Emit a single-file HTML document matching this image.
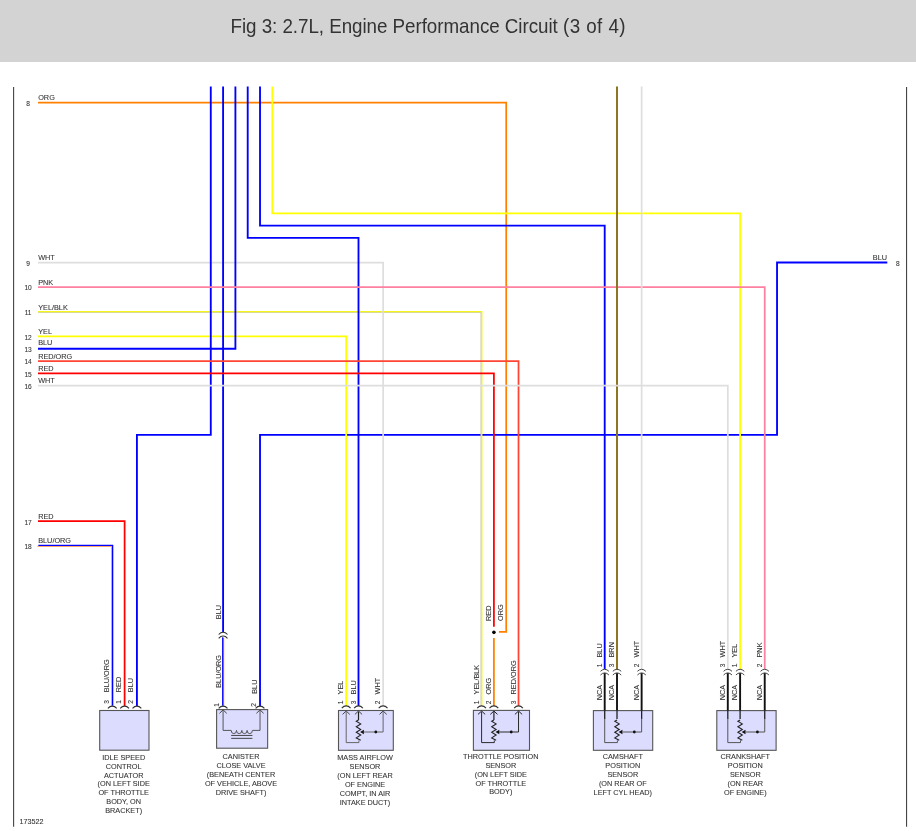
<!DOCTYPE html>
<html lang="en">
<head>
<meta charset="utf-8">
<title>Fig 3: 2.7L, Engine Performance Circuit (3 of 4)</title>
<style>
html,body{margin:0;padding:0;background:#fff;}
body{width:916px;height:831px;position:relative;overflow:hidden;font-family:"Liberation Sans",sans-serif;}
#hdr{position:absolute;left:0;top:0;width:916px;height:62px;background:#d3d3d3;}
#ttl{position:absolute;left:230.5px;top:13.7px;transform:scaleY(1.05);transform-origin:0 19.7px;font-size:18.8px;line-height:26px;color:#333;white-space:nowrap;letter-spacing:-0.04px;}
#ttl span{letter-spacing:0.45px;}
svg{position:absolute;left:0;top:0;}
svg text{font-family:"Liberation Sans",sans-serif;stroke:#333;stroke-width:0.08px;}
</style>
</head>
<body>
<div id="hdr"><div id="ttl">Fig 3: 2.7L, Engine Performance Circuit <span>(3 of 4)</span></div></div>
<svg width="916" height="831" viewBox="0 0 916 831">
<path d="M38.00 102.50 L506.22 102.50 L506.22 631.83 L498.91 631.83" stroke="#ff8000" stroke-width="1.75" fill="none" />
<path d="M493.91 638.03 L493.91 706.00" stroke="#ff8000" stroke-width="1.75" fill="none" />
<path d="M887.30 262.53 L777.04 262.53 L777.04 434.87 L260.02 434.87 L260.02 706.20" stroke="#0000ff" stroke-width="1.85" fill="none" />
<path d="M38.00 312.12 L481.25 312.12 L481.25 706.00" stroke="#c8c8a0" stroke-width="1.5" fill="none" />
<path d="M38.00 311.62 L481.75 311.62 L481.75 706.00" stroke="#f4f420" stroke-width="1.35" fill="none" />
<path d="M272.33 86.50 L272.33 213.29 L740.11 213.29 L740.11 669.00" stroke="#ffff00" stroke-width="1.75" fill="none" />
<path d="M38.00 336.39 L346.19 336.39 L346.19 706.00" stroke="#ffff00" stroke-width="1.75" fill="none" />
<path d="M38.00 262.53 L383.12 262.53 L383.12 706.00" stroke="#dedede" stroke-width="1.7" fill="none" />
<path d="M210.78 86.50 L210.78 434.87 L136.92 434.87 L136.92 706.00" stroke="#0000ff" stroke-width="1.85" fill="none" />
<path d="M223.09 86.50 L223.09 632.00" stroke="#0000ff" stroke-width="1.85" fill="none" />
<path d="M38.00 348.70 L235.40 348.70 L235.40 86.50" stroke="#0000ff" stroke-width="1.85" fill="none" />
<path d="M247.71 86.50 L247.71 237.91 L358.50 237.91 L358.50 706.00" stroke="#0000ff" stroke-width="1.85" fill="none" />
<path d="M260.02 86.50 L260.02 225.60 L604.70 225.60 L604.70 669.00" stroke="#0000ff" stroke-width="1.85" fill="none" />
<path d="M38.00 287.15 L764.73 287.15 L764.73 669.00" stroke="#ff80a0" stroke-width="1.75" fill="none" />
<path d="M38.00 361.01 L518.53 361.01 L518.53 706.00" stroke="#ff4434" stroke-width="1.75" fill="none" />
<path d="M38.00 373.32 L493.91 373.32 L493.91 626.83" stroke="#ff0000" stroke-width="1.75" fill="none" />
<path d="M38.00 521.04 L124.61 521.04 L124.61 706.00" stroke="#ff0000" stroke-width="1.75" fill="none" />
<path d="M617.01 86.50 L617.01 669.00" stroke="#8c7424" stroke-width="2.0" fill="none" />
<path d="M641.63 86.50 L641.63 669.00" stroke="#dedede" stroke-width="1.7" fill="none" />
<path d="M38.00 385.63 L727.80 385.63 L727.80 669.00" stroke="#dedede" stroke-width="1.7" fill="none" />
<path d="M37.40 546.26 L111.70 546.26 L111.70 706.60" stroke="#ff8a40" stroke-width="1.0" fill="none" />
<path d="M38.35 545.31 L112.65 545.31 L112.65 705.65" stroke="#0000ff" stroke-width="1.3" fill="none" />
<path d="M223.69 638.10 L223.69 706.80" stroke="#ff8a40" stroke-width="1.0" fill="none" />
<path d="M222.74 637.15 L222.74 705.85" stroke="#0000ff" stroke-width="1.3" fill="none" />
<circle cx="493.91" cy="632.33" r="1.8" fill="#000"/>
<path d="M218.69 634.50 Q220.67 632.20 223.09 632.20 Q225.51 632.20 227.49 634.50" stroke="#333" stroke-width="1.1" fill="none"/>
<path d="M218.69 638.30 Q220.67 636.00 223.09 636.00 Q225.51 636.00 227.49 638.30" stroke="#333" stroke-width="1.1" fill="none"/>
<path d="M13.6 87 V826.8" stroke="#444" stroke-width="1.1"/>
<path d="M906.55 87 V826.8" stroke="#444" stroke-width="1.1"/>
<text x="38.20" y="100.30" text-anchor="start" font-size="7.3" fill="#333333">ORG</text>
<text x="28.10" y="106.10" text-anchor="middle" font-size="6.6" fill="#333333">8</text>
<text x="38.20" y="260.33" text-anchor="start" font-size="7.3" fill="#333333">WHT</text>
<text x="28.10" y="266.13" text-anchor="middle" font-size="6.6" fill="#333333">9</text>
<text x="38.20" y="284.95" text-anchor="start" font-size="7.3" fill="#333333">PNK</text>
<text x="28.10" y="289.75" text-anchor="middle" font-size="6.6" fill="#333333">10</text>
<text x="38.20" y="309.57" text-anchor="start" font-size="7.3" fill="#333333">YEL/BLK</text>
<text x="28.10" y="315.37" text-anchor="middle" font-size="6.6" fill="#333333">11</text>
<text x="38.20" y="334.19" text-anchor="start" font-size="7.3" fill="#333333">YEL</text>
<text x="28.10" y="339.99" text-anchor="middle" font-size="6.6" fill="#333333">12</text>
<text x="38.20" y="345.40" text-anchor="start" font-size="7.3" fill="#333333">BLU</text>
<text x="28.10" y="352.30" text-anchor="middle" font-size="6.6" fill="#333333">13</text>
<text x="38.20" y="358.81" text-anchor="start" font-size="7.3" fill="#333333">RED/ORG</text>
<text x="28.10" y="363.61" text-anchor="middle" font-size="6.6" fill="#333333">14</text>
<text x="38.20" y="371.12" text-anchor="start" font-size="7.3" fill="#333333">RED</text>
<text x="28.10" y="376.92" text-anchor="middle" font-size="6.6" fill="#333333">15</text>
<text x="38.20" y="383.43" text-anchor="start" font-size="7.3" fill="#333333">WHT</text>
<text x="28.10" y="389.23" text-anchor="middle" font-size="6.6" fill="#333333">16</text>
<text x="38.20" y="518.84" text-anchor="start" font-size="7.3" fill="#333333">RED</text>
<text x="28.10" y="524.64" text-anchor="middle" font-size="6.6" fill="#333333">17</text>
<text x="38.20" y="543.46" text-anchor="start" font-size="7.3" fill="#333333">BLU/ORG</text>
<text x="28.10" y="549.26" text-anchor="middle" font-size="6.6" fill="#333333">18</text>
<text x="887.00" y="260.33" text-anchor="end" font-size="7.3" fill="#333333">BLU</text>
<text x="896.00" y="266.13" text-anchor="start" font-size="6.6" fill="#333333">8</text>
<text x="19.50" y="823.80" text-anchor="start" font-size="7.2" fill="#333333">173522</text>
<text transform="translate(221.19 619.20) rotate(-90)" text-anchor="start" font-size="7.3" fill="#333333">BLU</text>
<text transform="translate(491.41 620.90) rotate(-90)" text-anchor="start" font-size="7.3" fill="#333333">RED</text>
<text transform="translate(503.22 620.90) rotate(-90)" text-anchor="start" font-size="7.3" fill="#333333">ORG</text>
<rect x="99.70" y="710.50" width="49.30" height="39.70" fill="#dcdcff" stroke="#555" stroke-width="1.1"/>
<path d="M107.90 708.40 Q109.88 706.10 112.30 706.10 Q114.72 706.10 116.70 708.40" stroke="#333" stroke-width="1.1" fill="none"/>
<text transform="translate(109.40 692.20) rotate(-90)" text-anchor="start" font-size="7.3" fill="#333333">BLU/ORG</text>
<text transform="translate(109.40 703.80) rotate(-90)" text-anchor="start" font-size="6.6" fill="#333333">3</text>
<path d="M120.21 708.40 Q122.19 706.10 124.61 706.10 Q127.03 706.10 129.01 708.40" stroke="#333" stroke-width="1.1" fill="none"/>
<text transform="translate(120.71 692.20) rotate(-90)" text-anchor="start" font-size="7.3" fill="#333333">RED</text>
<text transform="translate(120.71 703.80) rotate(-90)" text-anchor="start" font-size="6.6" fill="#333333">1</text>
<path d="M132.52 708.40 Q134.50 706.10 136.92 706.10 Q139.34 706.10 141.32 708.40" stroke="#333" stroke-width="1.1" fill="none"/>
<text transform="translate(133.02 692.20) rotate(-90)" text-anchor="start" font-size="7.3" fill="#333333">BLU</text>
<text transform="translate(133.02 703.80) rotate(-90)" text-anchor="start" font-size="6.6" fill="#333333">2</text>
<text x="123.70" y="760.00" text-anchor="middle" font-size="7.3" fill="#333333">IDLE SPEED</text>
<text x="123.70" y="768.80" text-anchor="middle" font-size="7.3" fill="#333333">CONTROL</text>
<text x="123.70" y="777.60" text-anchor="middle" font-size="7.3" fill="#333333">ACTUATOR</text>
<text x="123.70" y="786.40" text-anchor="middle" font-size="7.3" fill="#333333">(ON LEFT SIDE</text>
<text x="123.70" y="795.20" text-anchor="middle" font-size="7.3" fill="#333333">OF THROTTLE</text>
<text x="123.70" y="804.00" text-anchor="middle" font-size="7.3" fill="#333333">BODY, ON</text>
<text x="123.70" y="812.80" text-anchor="middle" font-size="7.3" fill="#333333">BRACKET)</text>
<rect x="216.60" y="709.60" width="51.05" height="38.60" fill="#dcdcff" stroke="#555" stroke-width="1.1"/>
<path d="M218.69 708.40 Q220.67 706.10 223.09 706.10 Q225.51 706.10 227.49 708.40" stroke="#333" stroke-width="1.1" fill="none"/>
<path d="M219.49 713.30 L223.09 709.90 L226.69 713.30" stroke="#444" stroke-width="1" fill="none"/>
<path d="M255.62 708.40 Q257.60 706.10 260.02 706.10 Q262.44 706.10 264.42 708.40" stroke="#333" stroke-width="1.1" fill="none"/>
<path d="M256.42 713.30 L260.02 709.90 L263.62 713.30" stroke="#444" stroke-width="1" fill="none"/>
<text transform="translate(221.19 687.80) rotate(-90)" text-anchor="start" font-size="7.3" fill="#333333">BLU/ORG</text>
<text transform="translate(257.42 693.80) rotate(-90)" text-anchor="start" font-size="7.3" fill="#333333">BLU</text>
<text transform="translate(218.89 706.80) rotate(-90)" text-anchor="start" font-size="6.6" fill="#333333">1</text>
<text transform="translate(255.82 706.80) rotate(-90)" text-anchor="start" font-size="6.6" fill="#333333">2</text>
<path d="M223.09 710.5 V730.4 H231.2 A2.65 3.20 0 0 0 236.50 730.4 A2.65 3.20 0 0 0 241.80 730.4 A2.65 3.20 0 0 0 247.10 730.4 A2.65 3.20 0 0 0 252.40 730.4 H260.02 V710.5" stroke="#555" stroke-width="1" fill="none"/>
<path d="M231.2 735.45 H252.4 M231.2 738.35 H252.4" stroke="#333" stroke-width="0.9"/>
<text x="241.00" y="758.80" text-anchor="middle" font-size="7.3" fill="#333333">CANISTER</text>
<text x="241.00" y="767.85" text-anchor="middle" font-size="7.3" fill="#333333">CLOSE VALVE</text>
<text x="241.00" y="776.90" text-anchor="middle" font-size="7.3" fill="#333333">(BENEATH CENTER</text>
<text x="241.00" y="785.95" text-anchor="middle" font-size="7.3" fill="#333333">OF VEHICLE, ABOVE</text>
<text x="241.00" y="795.00" text-anchor="middle" font-size="7.3" fill="#333333">DRIVE SHAFT)</text>
<rect x="338.50" y="710.50" width="54.80" height="39.80" fill="#dcdcff" stroke="#555" stroke-width="1.1"/>
<path d="M341.79 708.20 Q343.77 705.90 346.19 705.90 Q348.61 705.90 350.59 708.20" stroke="#333" stroke-width="1.1" fill="none"/>
<path d="M342.59 714.40 L346.19 711.00 L349.79 714.40" stroke="#444" stroke-width="1" fill="none"/>
<text transform="translate(343.29 694.40) rotate(-90)" text-anchor="start" font-size="7.3" fill="#333333">YEL</text>
<text transform="translate(343.29 704.20) rotate(-90)" text-anchor="start" font-size="6.6" fill="#333333">1</text>
<path d="M354.10 708.20 Q356.08 705.90 358.50 705.90 Q360.92 705.90 362.90 708.20" stroke="#333" stroke-width="1.1" fill="none"/>
<path d="M354.90 714.40 L358.50 711.00 L362.10 714.40" stroke="#444" stroke-width="1" fill="none"/>
<text transform="translate(355.60 694.40) rotate(-90)" text-anchor="start" font-size="7.3" fill="#333333">BLU</text>
<text transform="translate(355.60 704.20) rotate(-90)" text-anchor="start" font-size="6.6" fill="#333333">3</text>
<path d="M378.72 708.20 Q380.70 705.90 383.12 705.90 Q385.54 705.90 387.52 708.20" stroke="#333" stroke-width="1.1" fill="none"/>
<path d="M379.52 714.40 L383.12 711.00 L386.72 714.40" stroke="#444" stroke-width="1" fill="none"/>
<text transform="translate(380.22 694.40) rotate(-90)" text-anchor="start" font-size="7.3" fill="#333333">WHT</text>
<text transform="translate(380.22 704.20) rotate(-90)" text-anchor="start" font-size="6.6" fill="#333333">2</text>
<path d="M358.50 711.50 L358.50 720.00" stroke="#222" stroke-width="1.2" fill="none" />
<path d="M346.19 711.50 L346.19 742.60 L358.90 742.60 L358.90 740.40" stroke="#666" stroke-width="1.0" fill="none" />
<path d="M358.50 720.00 L356.30 721.20 L360.70 723.90 L356.30 726.80 L360.70 729.50 L356.30 732.30 L360.70 735.00 L356.30 737.90 L360.70 740.30" stroke="#222" stroke-width="1.1" fill="none" stroke-linejoin="miter"/>
<path d="M360.10 732.00 L363.90 729.80 L363.90 734.20 Z" fill="#111"/>
<path d="M363.90 732.00 L383.12 732.00 L383.12 711.50" stroke="#666" stroke-width="1.0" fill="none" />
<circle cx="375.80" cy="732.00" r="1.4" fill="#111"/>
<text x="365.00" y="759.80" text-anchor="middle" font-size="7.3" fill="#333333">MASS AIRFLOW</text>
<text x="365.00" y="768.83" text-anchor="middle" font-size="7.3" fill="#333333">SENSOR</text>
<text x="365.00" y="777.86" text-anchor="middle" font-size="7.3" fill="#333333">(ON LEFT REAR</text>
<text x="365.00" y="786.89" text-anchor="middle" font-size="7.3" fill="#333333">OF ENGINE</text>
<text x="365.00" y="795.92" text-anchor="middle" font-size="7.3" fill="#333333">COMPT, IN AIR</text>
<text x="365.00" y="804.95" text-anchor="middle" font-size="7.3" fill="#333333">INTAKE DUCT)</text>
<rect x="473.40" y="710.40" width="56.10" height="39.90" fill="#dcdcff" stroke="#555" stroke-width="1.1"/>
<path d="M477.20 708.20 Q479.18 705.90 481.60 705.90 Q484.02 705.90 486.00 708.20" stroke="#333" stroke-width="1.1" fill="none"/>
<path d="M478.00 714.40 L481.60 711.00 L485.20 714.40" stroke="#222" stroke-width="1" fill="none"/>
<text transform="translate(478.70 694.40) rotate(-90)" text-anchor="start" font-size="7.3" fill="#333333">YEL/BLK</text>
<text transform="translate(478.70 704.20) rotate(-90)" text-anchor="start" font-size="6.6" fill="#333333">1</text>
<path d="M489.51 708.20 Q491.49 705.90 493.91 705.90 Q496.33 705.90 498.31 708.20" stroke="#333" stroke-width="1.1" fill="none"/>
<path d="M490.31 714.40 L493.91 711.00 L497.51 714.40" stroke="#222" stroke-width="1" fill="none"/>
<text transform="translate(491.01 694.40) rotate(-90)" text-anchor="start" font-size="7.3" fill="#333333">ORG</text>
<text transform="translate(491.01 704.20) rotate(-90)" text-anchor="start" font-size="6.6" fill="#333333">2</text>
<path d="M514.13 708.20 Q516.11 705.90 518.53 705.90 Q520.95 705.90 522.93 708.20" stroke="#333" stroke-width="1.1" fill="none"/>
<path d="M514.93 714.40 L518.53 711.00 L522.13 714.40" stroke="#222" stroke-width="1" fill="none"/>
<text transform="translate(515.63 694.40) rotate(-90)" text-anchor="start" font-size="7.3" fill="#333333">RED/ORG</text>
<text transform="translate(515.63 704.20) rotate(-90)" text-anchor="start" font-size="6.6" fill="#333333">3</text>
<path d="M493.91 711.50 L493.91 720.00" stroke="#222" stroke-width="1.2" fill="none" />
<path d="M481.60 711.50 L481.60 742.60 L494.31 742.60 L494.31 740.40" stroke="#2a2a2a" stroke-width="1.0" fill="none" />
<path d="M493.91 720.00 L491.71 721.20 L496.11 723.90 L491.71 726.80 L496.11 729.50 L491.71 732.30 L496.11 735.00 L491.71 737.90 L496.11 740.30" stroke="#222" stroke-width="1.1" fill="none" stroke-linejoin="miter"/>
<path d="M495.51 732.00 L499.31 729.80 L499.31 734.20 Z" fill="#111"/>
<path d="M499.31 732.00 L518.53 732.00 L518.53 711.50" stroke="#2a2a2a" stroke-width="1.0" fill="none" />
<circle cx="511.21" cy="732.00" r="1.4" fill="#111"/>
<text x="500.80" y="758.80" text-anchor="middle" font-size="7.3" fill="#333333">THROTTLE POSITION</text>
<text x="500.80" y="767.70" text-anchor="middle" font-size="7.3" fill="#333333">SENSOR</text>
<text x="500.80" y="776.60" text-anchor="middle" font-size="7.3" fill="#333333">(ON LEFT SIDE</text>
<text x="500.80" y="785.50" text-anchor="middle" font-size="7.3" fill="#333333">OF THROTTLE</text>
<text x="500.80" y="794.40" text-anchor="middle" font-size="7.3" fill="#333333">BODY)</text>
<rect x="593.40" y="710.60" width="59.30" height="39.70" fill="#dcdcff" stroke="#555" stroke-width="1.1"/>
<path d="M600.50 671.30 Q602.39 669.30 604.70 669.30 Q607.01 669.30 608.90 671.30" stroke="#444" stroke-width="1.0" fill="none"/>
<path d="M600.50 675.00 Q602.39 672.90 604.70 672.90 Q607.01 672.90 608.90 675.00" stroke="#444" stroke-width="1.0" fill="none"/>
<text transform="translate(601.80 657.50) rotate(-90)" text-anchor="start" font-size="7.3" fill="#333333">BLU</text>
<text transform="translate(601.80 667.20) rotate(-90)" text-anchor="start" font-size="6.6" fill="#333333">1</text>
<text transform="translate(601.80 700.20) rotate(-90)" text-anchor="start" font-size="7.3" fill="#333333">NCA</text>
<path d="M604.70 673.20 L604.70 710.60" stroke="#111" stroke-width="1.9" fill="none" />
<path d="M604.70 710.60 L604.70 719.00" stroke="#222" stroke-width="1.3" fill="none" />
<path d="M612.81 671.30 Q614.70 669.30 617.01 669.30 Q619.32 669.30 621.21 671.30" stroke="#444" stroke-width="1.0" fill="none"/>
<path d="M612.81 675.00 Q614.70 672.90 617.01 672.90 Q619.32 672.90 621.21 675.00" stroke="#444" stroke-width="1.0" fill="none"/>
<text transform="translate(614.11 657.50) rotate(-90)" text-anchor="start" font-size="7.3" fill="#333333">BRN</text>
<text transform="translate(614.11 667.20) rotate(-90)" text-anchor="start" font-size="6.6" fill="#333333">3</text>
<text transform="translate(614.11 700.20) rotate(-90)" text-anchor="start" font-size="7.3" fill="#333333">NCA</text>
<path d="M617.01 673.20 L617.01 710.60" stroke="#111" stroke-width="1.9" fill="none" />
<path d="M617.01 710.60 L617.01 719.00" stroke="#222" stroke-width="1.3" fill="none" />
<path d="M637.43 671.30 Q639.32 669.30 641.63 669.30 Q643.94 669.30 645.83 671.30" stroke="#444" stroke-width="1.0" fill="none"/>
<path d="M637.43 675.00 Q639.32 672.90 641.63 672.90 Q643.94 672.90 645.83 675.00" stroke="#444" stroke-width="1.0" fill="none"/>
<text transform="translate(638.73 657.50) rotate(-90)" text-anchor="start" font-size="7.3" fill="#333333">WHT</text>
<text transform="translate(638.73 667.20) rotate(-90)" text-anchor="start" font-size="6.6" fill="#333333">2</text>
<text transform="translate(638.73 700.20) rotate(-90)" text-anchor="start" font-size="7.3" fill="#333333">NCA</text>
<path d="M641.63 673.20 L641.63 710.60" stroke="#111" stroke-width="1.9" fill="none" />
<path d="M641.63 710.60 L641.63 719.00" stroke="#222" stroke-width="1.3" fill="none" />
<path d="M604.70 718.50 L604.70 742.60 L617.41 742.60 L617.41 740.40" stroke="#555" stroke-width="1.0" fill="none" />
<path d="M617.01 720.00 L614.81 721.20 L619.21 723.90 L614.81 726.80 L619.21 729.50 L614.81 732.30 L619.21 735.00 L614.81 737.90 L619.21 740.30" stroke="#222" stroke-width="1.1" fill="none" stroke-linejoin="miter"/>
<path d="M618.61 732.00 L622.41 729.80 L622.41 734.20 Z" fill="#111"/>
<path d="M622.41 732.00 L641.63 732.00 L641.63 718.50" stroke="#555" stroke-width="1.0" fill="none" />
<circle cx="634.31" cy="732.00" r="1.4" fill="#111"/>
<text x="622.80" y="758.80" text-anchor="middle" font-size="7.3" fill="#333333">CAMSHAFT</text>
<text x="622.80" y="767.85" text-anchor="middle" font-size="7.3" fill="#333333">POSITION</text>
<text x="622.80" y="776.90" text-anchor="middle" font-size="7.3" fill="#333333">SENSOR</text>
<text x="622.80" y="785.95" text-anchor="middle" font-size="7.3" fill="#333333">(ON REAR OF</text>
<text x="622.80" y="795.00" text-anchor="middle" font-size="7.3" fill="#333333">LEFT CYL HEAD)</text>
<rect x="716.80" y="710.60" width="59.30" height="39.70" fill="#dcdcff" stroke="#555" stroke-width="1.1"/>
<path d="M723.60 671.30 Q725.49 669.30 727.80 669.30 Q730.11 669.30 732.00 671.30" stroke="#444" stroke-width="1.0" fill="none"/>
<path d="M723.60 675.00 Q725.49 672.90 727.80 672.90 Q730.11 672.90 732.00 675.00" stroke="#444" stroke-width="1.0" fill="none"/>
<text transform="translate(724.90 657.50) rotate(-90)" text-anchor="start" font-size="7.3" fill="#333333">WHT</text>
<text transform="translate(724.90 667.20) rotate(-90)" text-anchor="start" font-size="6.6" fill="#333333">3</text>
<text transform="translate(724.90 700.20) rotate(-90)" text-anchor="start" font-size="7.3" fill="#333333">NCA</text>
<path d="M727.80 673.20 L727.80 710.60" stroke="#111" stroke-width="1.9" fill="none" />
<path d="M727.80 710.60 L727.80 719.00" stroke="#222" stroke-width="1.3" fill="none" />
<path d="M735.91 671.30 Q737.80 669.30 740.11 669.30 Q742.42 669.30 744.31 671.30" stroke="#444" stroke-width="1.0" fill="none"/>
<path d="M735.91 675.00 Q737.80 672.90 740.11 672.90 Q742.42 672.90 744.31 675.00" stroke="#444" stroke-width="1.0" fill="none"/>
<text transform="translate(737.21 657.50) rotate(-90)" text-anchor="start" font-size="7.3" fill="#333333">YEL</text>
<text transform="translate(737.21 667.20) rotate(-90)" text-anchor="start" font-size="6.6" fill="#333333">1</text>
<text transform="translate(737.21 700.20) rotate(-90)" text-anchor="start" font-size="7.3" fill="#333333">NCA</text>
<path d="M740.11 673.20 L740.11 710.60" stroke="#111" stroke-width="1.9" fill="none" />
<path d="M740.11 710.60 L740.11 719.00" stroke="#222" stroke-width="1.3" fill="none" />
<path d="M760.53 671.30 Q762.42 669.30 764.73 669.30 Q767.04 669.30 768.93 671.30" stroke="#444" stroke-width="1.0" fill="none"/>
<path d="M760.53 675.00 Q762.42 672.90 764.73 672.90 Q767.04 672.90 768.93 675.00" stroke="#444" stroke-width="1.0" fill="none"/>
<text transform="translate(761.83 657.50) rotate(-90)" text-anchor="start" font-size="7.3" fill="#333333">PNK</text>
<text transform="translate(761.83 667.20) rotate(-90)" text-anchor="start" font-size="6.6" fill="#333333">2</text>
<text transform="translate(761.83 700.20) rotate(-90)" text-anchor="start" font-size="7.3" fill="#333333">NCA</text>
<path d="M764.73 673.20 L764.73 710.60" stroke="#111" stroke-width="1.9" fill="none" />
<path d="M764.73 710.60 L764.73 719.00" stroke="#222" stroke-width="1.3" fill="none" />
<path d="M727.80 718.50 L727.80 742.60 L740.51 742.60 L740.51 740.40" stroke="#555" stroke-width="1.0" fill="none" />
<path d="M740.11 720.00 L737.91 721.20 L742.31 723.90 L737.91 726.80 L742.31 729.50 L737.91 732.30 L742.31 735.00 L737.91 737.90 L742.31 740.30" stroke="#222" stroke-width="1.1" fill="none" stroke-linejoin="miter"/>
<path d="M741.71 732.00 L745.51 729.80 L745.51 734.20 Z" fill="#111"/>
<path d="M745.51 732.00 L764.73 732.00 L764.73 718.50" stroke="#555" stroke-width="1.0" fill="none" />
<circle cx="757.41" cy="732.00" r="1.4" fill="#111"/>
<text x="745.30" y="758.80" text-anchor="middle" font-size="7.3" fill="#333333">CRANKSHAFT</text>
<text x="745.30" y="767.85" text-anchor="middle" font-size="7.3" fill="#333333">POSITION</text>
<text x="745.30" y="776.90" text-anchor="middle" font-size="7.3" fill="#333333">SENSOR</text>
<text x="745.30" y="785.95" text-anchor="middle" font-size="7.3" fill="#333333">(ON REAR</text>
<text x="745.30" y="795.00" text-anchor="middle" font-size="7.3" fill="#333333">OF ENGINE)</text>
</svg>
</body>
</html>
